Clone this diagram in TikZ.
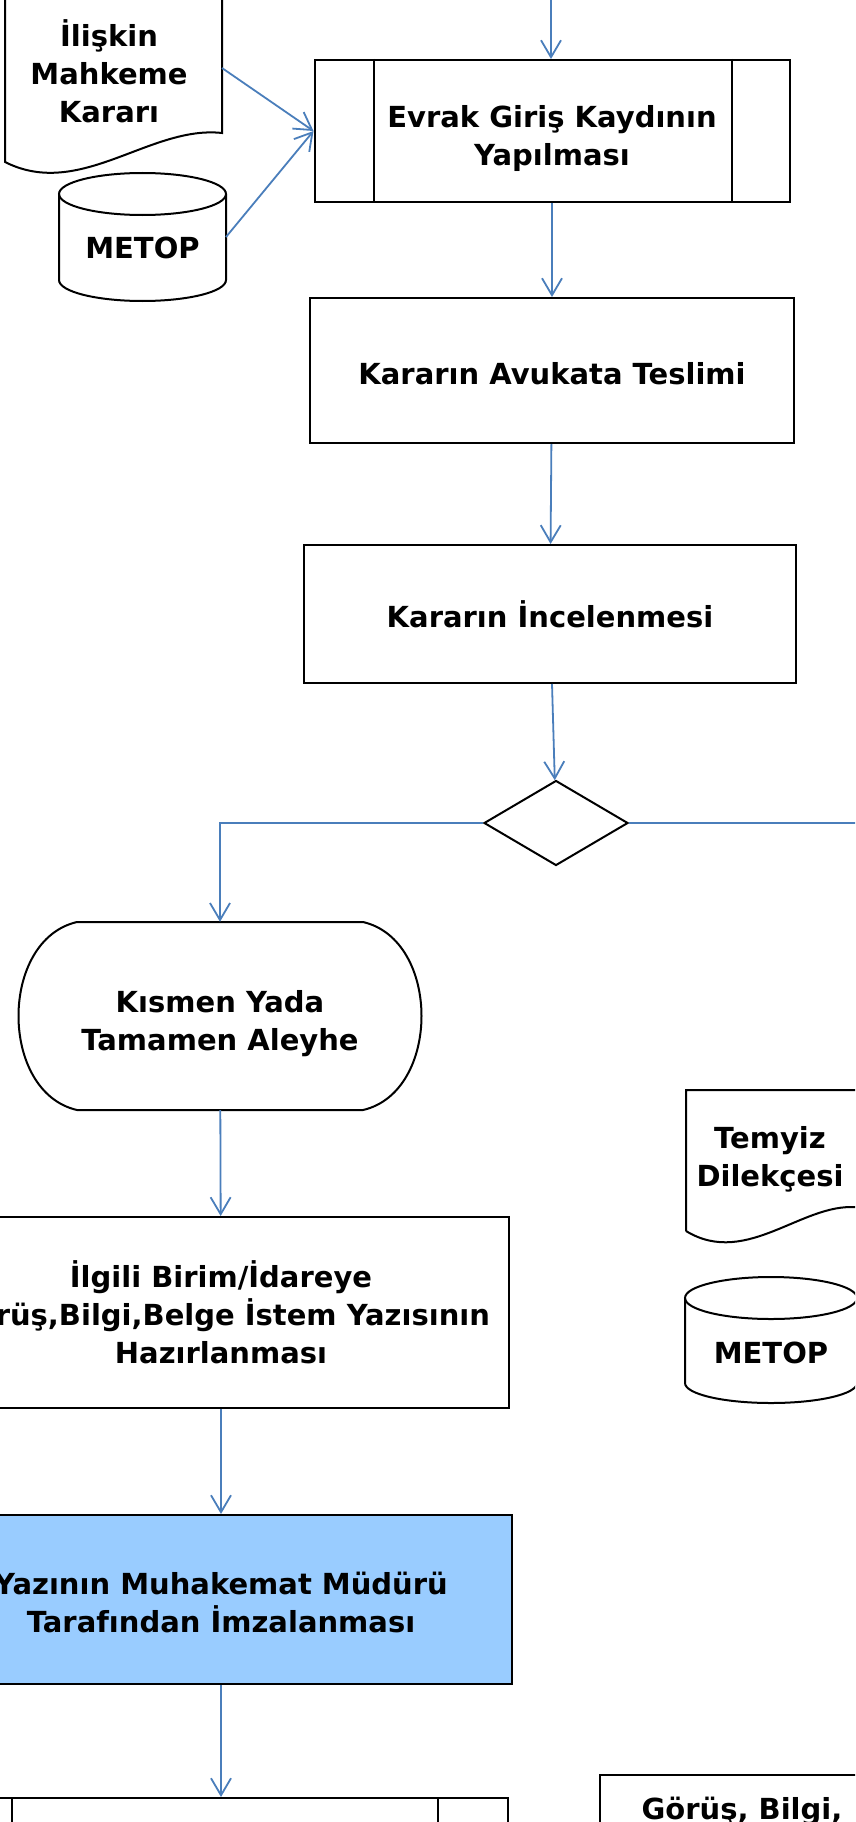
\documentclass[tikz,border=0pt]{standalone}
\usepackage{fontspec}
\setmainfont{DejaVu Sans}
\usepackage{tikz}
\usetikzlibrary{positioning, shapes.geometric, arrows.meta, calc}
\definecolor{FlowBlue}{RGB}{74, 126, 187}
\definecolor{SignBlue}{RGB}{153, 204, 255}

\begin{document}
\begin{tikzpicture}[x=1pt, y=-1pt,
    box/.style={draw, line width=2pt, align=center, inner sep=0pt, font=\fontsize{29}{38}\selectfont\bfseries},
    txt/.style={align=center, inner sep=0pt, font=\fontsize{29}{38}\selectfont\bfseries},
    edge/.style={line width=2pt},
    flow/.style={draw=FlowBlue, line width=1.8pt, -{Straight Barb[length=17pt, width=20pt]}}]
    \useasboundingbox (0,0) rectangle (855,1822);
    \clip (0,0) rectangle (855,1822);

    % Mahkeme karari belgesi
    \draw[edge] (222,-10) -- (222,133) .. controls (150,125) and (80,200) .. (5,162) -- (5,-10);
    \node[txt] (belge) at (109,71) {İlişkin\\Mahkeme\\Kararı};
    \coordinate (belgeE) at (222,68);

    % METOP (ust)
    \draw[edge] (59,194) -- (59,280) arc[start angle=180, end angle=0, x radius=83.5, y radius=21] -- (226,194);
    \draw[edge] (142.5,194) ellipse[x radius=83.5, y radius=21];
    \node[txt] (metopA) at (142.5,248) {METOP};
    \coordinate (metopAE) at (226,237);

    % Orta sutun
    \coordinate (ust) at (551,-10);
    \node[box, minimum width=475pt, minimum height=142pt] (giris) at (552,131) {};
    \node[txt] (girisT) at (552,139) {Evrak Giriş Kaydının\\Yapılması};
    \draw[edge] ([xshift=60pt]giris.north west) -- ([xshift=60pt]giris.south west);
    \draw[edge] ([xshift=-59pt]giris.north east) -- ([xshift=-59pt]giris.south east);
    \node[box, minimum width=484pt, minimum height=145pt] (teslim) at (552,370.5) {};
    \node[txt] (teslimT) at (552,374) {Kararın Avukata Teslimi};
    \node[box, minimum width=492pt, minimum height=138pt] (incele) at (550,614) {Kararın İncelenmesi};
    \node[box, diamond, minimum width=144pt, minimum height=85pt] (karar) at (556,823) {};
    \coordinate (sag) at (880,823);

    % Sol sutun
    \draw[edge] (77,922) -- (363,922) .. controls (441,940) and (441,1092) .. (363,1110) -- (77,1110) .. controls (-1,1092) and (-1,940) .. (77,922) -- cycle;
    \node[minimum width=402pt, minimum height=188pt] (kismen) at (220,1016) {};
    \node[txt] (kismenT) at (220,1024) {Kısmen Yada\\Tamamen Aleyhe};
    \node[box, minimum width=576pt, minimum height=191pt] (istem) at (221,1312.5) {İlgili Birim/İdareye\\Görüş,Bilgi,Belge İstem Yazısının\\Hazırlanması};
    \node[box, fill=SignBlue, minimum width=582pt, minimum height=169pt] (imza) at (221,1599.5) {};
    \node[txt] (imzaT) at (221,1602) {Yazının Muhakemat Müdürü\\Tarafından İmzalanması};
    \node[box, minimum width=574pt, minimum height=142pt, anchor=north] (sonraki) at (221,1797) {};
    \draw[edge] ([xshift=79pt]sonraki.north west) -- ([xshift=79pt]sonraki.south west);
    \draw[edge] ([xshift=-71pt]sonraki.north east) -- ([xshift=-71pt]sonraki.south east);

    % Temyiz dilekcesi
    \draw[edge] (686,1231) -- (686,1090) -- (880,1090) (862,1090) -- (862,1208) .. controls (806,1198) and (748,1269) .. (686,1231);
    \node[txt] (temyiz) at (770,1159) {Temyiz\\Dilekçesi};

    % METOP (alt)
    \draw[edge] (685,1298) -- (685,1383) arc[start angle=180, end angle=0, x radius=86, y radius=20] -- (857,1298);
    \draw[edge] (771,1298) ellipse[x radius=86, y radius=21];
    \node[txt] (metopB) at (771,1353) {METOP};

    % Gorus bilgi
    \draw[edge] (600,1950) -- (600,1775) -- (890,1775);
    \node[txt, anchor=base] (gorus) at (742,1819) {Görüş, Bilgi,};

    % Baglantilar
    \draw[flow] (ust) -- (ust |- giris.north);
    \draw[flow] (belgeE) -- (giris.west);
    \draw[flow] (metopAE) -- (giris.west);
    \draw[flow] (giris) -- (teslim);
    \draw[flow] (teslim) -- (incele);
    \draw[flow] (incele) -- (karar);
    \draw[flow] (karar.west) -| (kismen.north);
    \draw[flow, -] (karar.east) -- (sag);
    \draw[flow] (kismen) -- (istem);
    \draw[flow] (istem) -- (imza);
    \draw[flow] (imza) -- (sonraki);
  \end{tikzpicture}
\end{document}
